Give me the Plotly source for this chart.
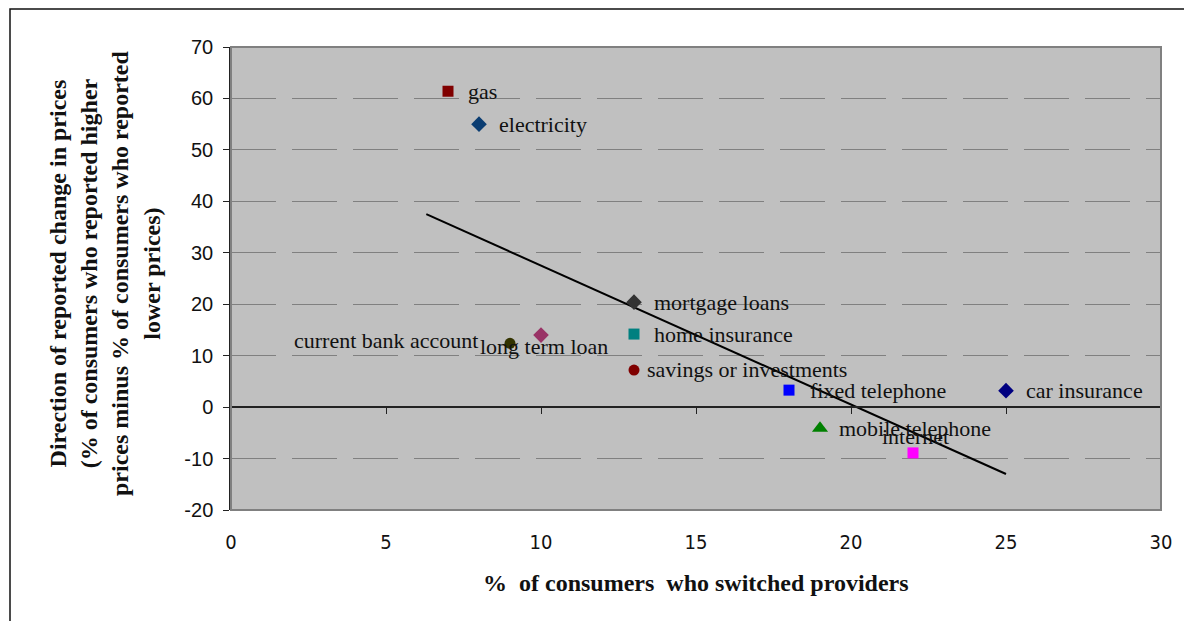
import plotly.graph_objects as go

# ---- data ----
categories = ["gas", "electricity", "mortgage loans", "home insurance",
              "savings or investments", "current bank account", "long term loan",
              "fixed telephone", "car insurance", "mobile telephone", "internet"]
switched = [7, 8, 13, 13, 13, 9, 10, 18, 25, 19, 22]
price_change = [61.4, 55.0, 20.4, 14.2, 7.2, 12.4, 14.0, 3.3, 3.2, -4.1, -8.9]

trend_x = [6.3, 25.0]
trend_y = [37.5, -13.0]

x_ticks = [0, 5, 10, 15, 20, 25, 30]
y_ticks = [-20, -10, 0, 10, 20, 30, 40, 50, 60, 70]
y_tick_labels = [str(v) for v in y_ticks]

# ---- styles ----
symbols = ["square", "diamond", "diamond", "square", "circle", "circle", "diamond",
           "square", "diamond", "triangle-up", "square"]
colors = ["#800000", "#0B3D72", "#333333", "#008080", "#800000", "#333300", "#993366",
          "#0000FF", "#000080", "#008000", "#FF00FF"]
sizes = [11, 12, 12, 11, 11, 11, 12, 11, 12, 14, 11]
# label placement: (xanchor, xshift px, yshift px)
label_pos = {
    "gas": ("left", 18, 0),
    "electricity": ("left", 18, 0),
    "mortgage loans": ("left", 18, 0),
    "home insurance": ("left", 18, 0),
    "savings or investments": ("left", 11, 1),
    "current bank account": ("right", -30, 3),
    "long term loan": ("center", 3, -11),
    "fixed telephone": ("left", 19, 0),
    "car insurance": ("left", 18, 0),
    "mobile telephone": ("left", 17, 0),
    "internet": ("center", 2, 16),
}

serif = "Liberation Serif, Times New Roman, serif"

# page offset compensation (body margin of the html page)
OFF = 8
L, R, T, B = 231 - OFF, 31 + OFF, 47 - OFF, 111 + OFF
PW = 1192 - L - R
PH = 621 - T - B

fig = go.Figure()

# trendline
fig.add_trace(go.Scatter(x=trend_x, y=trend_y, mode="lines",
                         line=dict(color="black", width=2),
                         hoverinfo="skip", showlegend=False))

fig.add_trace(go.Scatter(
    x=switched, y=price_change, mode="markers",
    marker=dict(symbol=symbols, color=colors, size=sizes, opacity=1,
                line=dict(width=0)),
    text=categories, showlegend=False))

# invisible trace on the zero-crossing axis
fig.add_trace(go.Scatter(x=[0, 30], y=[0, 0], xaxis="x2", yaxis="y", mode="lines",
                         line=dict(width=0), hoverinfo="skip", showlegend=False))

for cat, xv, yv in zip(categories, switched, price_change):
    anc, xs, ys = label_pos[cat]
    fig.add_annotation(x=xv, y=yv, text=cat, showarrow=False, xanchor=anc,
                       yanchor="middle", xshift=xs, yshift=ys,
                       font=dict(family=serif, size=22, color="#111111"))

grid_dash = "45px,16px"

fig.update_layout(
    width=1192, height=621,
    margin=dict(l=L, r=R, t=T, b=B),
    paper_bgcolor="white",
    plot_bgcolor="#C0C0C0",
    xaxis=dict(range=[0, 30], tickvals=x_ticks, showgrid=False, zeroline=False,
               showline=False, ticks="", ticklabelstandoff=18,
               tickfont=dict(family="Liberation Sans Narrow, DejaVu Sans Condensed, Liberation Sans, Arial",
                             size=20, color="#111111"),
               fixedrange=True),
    xaxis2=dict(range=[0, 30], tickvals=x_ticks, overlaying="x", anchor="free",
                position=20 / 90, side="bottom", showline=True, linecolor="#222222",
                linewidth=1.5, ticks="outside", ticklen=6, tickcolor="#222222",
                showticklabels=False, showgrid=False, zeroline=False),
    yaxis=dict(range=[-20, 70], tickvals=y_ticks, ticktext=y_tick_labels,
               showgrid=True, gridcolor="#808080",
               gridwidth=1, griddash=grid_dash, zeroline=False,
               showline=True, linecolor="#222222", linewidth=1.5,
               ticks="outside", ticklen=6, tickcolor="#222222", ticklabelstandoff=6,
               tickfont=dict(family="Liberation Sans, Arial, sans-serif", size=20,
                             color="#111111")),
    shapes=[
        # plot area border
        dict(type="rect", xref="paper", yref="paper", x0=0, x1=1, y0=0, y1=1,
             line=dict(color="#808080", width=2), fillcolor="rgba(0,0,0,0)",
             layer="above"),
        # outer chart border
        dict(type="rect", xref="paper", yref="paper",
             x0=(10 - 231) / PW, x1=(1210 - 231) / PW,
             y0=(510 - 640) / PH, y1=(510 - 9) / PH,
             line=dict(color="#111111", width=1.5), fillcolor="rgba(0,0,0,0)",
             layer="above"),
    ],
)

# axis titles
fig.add_annotation(
    xref="paper", yref="paper", x=(105 - 231) / PW, y=(510 - 273) / PH,
    text="Direction of reported change in prices<br>(% of consumers who reported higher<br>"
         "prices minus % of consumers who reported<br>lower prices)",
    textangle=-90, showarrow=False, xanchor="center", yanchor="middle",
    font=dict(family=serif, size=24, color="#111111", weight="bold"), align="center")

fig.add_annotation(
    xref="paper", yref="paper", x=0.5, y=(510 - 583) / PH,
    text="%  of consumers  who switched providers", showarrow=False,
    xanchor="center", yanchor="middle",
    font=dict(family=serif, size=24, color="#111111", weight="bold"))

fig.write_html("out.html")
